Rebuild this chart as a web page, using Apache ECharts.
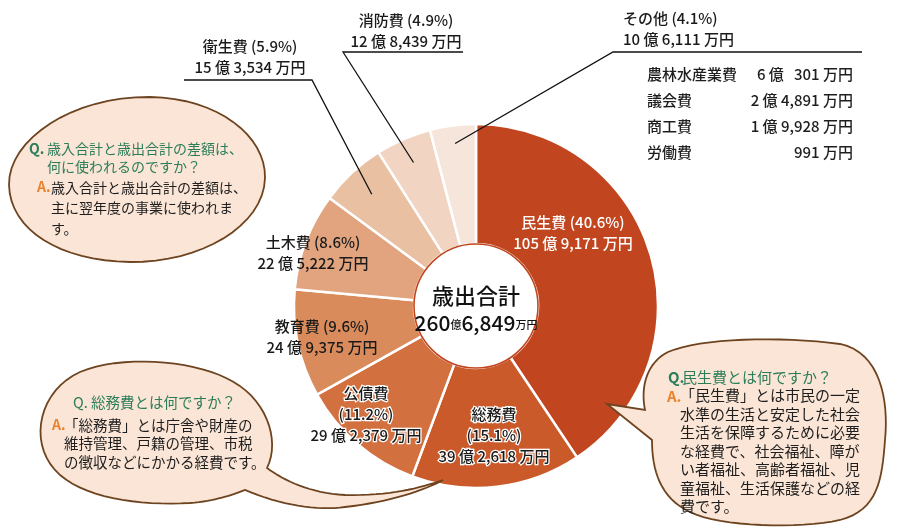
<!DOCTYPE html>
<html><head><meta charset="utf-8">
<script src="https://cdn.jsdelivr.net/npm/echarts@6/dist/echarts.min.js"></script>
<style>html,body{margin:0;padding:0;background:#fff}#c{width:900px;height:532px}</style>
</head><body><div id="c"></div>
<script>
// ---- data (万円) ----
const categories = ['民生費','総務費','公債費','教育費','土木費','衛生費','消防費','その他'];
const values = [1059171, 392618, 292379, 249375, 225222, 153534, 128439, 106111];
const otherNames = ['農林水産業費','議会費','商工費','労働費'];
const otherValues = [60301, 24891, 19928, 991];
const centerTitle = '歳出合計';

// ---- styles / layout ----
const FONT = "'Noto Sans CJK JP', sans-serif";
const sliceColors = ['#c1461f','#cb5a2b','#d2703f','#d98b5c','#e1a47e','#e9c0a2','#f1d5c2','#f6e5da'];
const CX = 476, CY = 306, R_OUT = 182, R_IN = 62;
const labelPos = [[573,233],[494,435],[366,414],[322,337],[313,253],[250,57],[406,31],[623,29]];
const labelAlign = ['center','center','center','center','center','center','center','left'];
const leaderPts = {5: [[312,80],[184,80]], 6: [[343,52],[463,52]], 7: [[613,52],[862,52]]};
const leaderR = {5: 0.84, 6: 0.86, 7: 0.9};

const total = values.reduce((a,b)=>a+b,0);
function fmtMan(v, pad){
  const oku = Math.floor(v/10000), man = v % 10000;
  const m = man >= 1000 ? Math.floor(man/1000) + ',' + String(man % 1000).padStart(3,'0') : String(man);
  if (oku > 0) return oku + ' 億 ' + (pad && man < 1000 ? '  ' : '') + m + ' 万円';
  return m + ' 万円';
}
function pct(v){ return (v/total*100).toFixed(1); }
function midAngle(i){
  let before = 0; for (let k=0;k<i;k++) before += values[k];
  return (before + values[i]/2) / total * Math.PI * 2;
}
const threeLine = {1:true, 2:true};

const labelStyles = [
  {color:'#fff'},
  {color:'#1a1a1a', textBorderColor:'#fff', textBorderWidth:2.5},
  {color:'#1a1a1a', textBorderColor:'#fff', textBorderWidth:2.5},
  {color:'#1a1a1a'},{color:'#1a1a1a'},{color:'#1a1a1a'},{color:'#1a1a1a'},{color:'#1a1a1a'}
];

// sample a simple M/C/L/Z path into polygon points
function samplePath(d){
  const tk = d.trim().split(/[\s,]+/);
  const pts = []; let i = 0, cx = 0, cy = 0, cmd = '';
  while (i < tk.length){
    if (/^[MCLZ]$/i.test(tk[i])) { cmd = tk[i].toUpperCase(); i++; if (cmd==='Z') continue; }
    if (cmd === 'M' || cmd === 'L'){ cx = +tk[i]; cy = +tk[i+1]; i += 2; pts.push([cx,cy]); }
    else if (cmd === 'C'){
      const x1=+tk[i],y1=+tk[i+1],x2=+tk[i+2],y2=+tk[i+3],x3=+tk[i+4],y3=+tk[i+5]; i += 6;
      for (let s=1;s<=16;s++){ const t=s/16, u=1-t;
        pts.push([u*u*u*cx+3*u*u*t*x1+3*u*t*t*x2+t*t*t*x3, u*u*u*cy+3*u*u*t*y1+3*u*t*t*y2+t*t*t*y3]); }
      cx = x3; cy = y3;
    } else i++;
  }
  return pts;
}

const chart = echarts.init(document.getElementById('c'));

const totOku = Math.floor(total/10000), totMan = total % 10000;
const totManStr = Math.floor(totMan/1000) + ',' + String(totMan%1000).padStart(3,'0');

const bubbleStyle = {fill:'#fae5d6', stroke:'#6e4420', lineWidth:1.8};
const GREEN = '#2b7d5a', ORANGE = '#e8832f', DARK = '#1e1e1e';

function txt(text, x, y, opt){
  return {type:'text', z:120, style: Object.assign({text:text, x:x, y:y, fill:DARK, fontSize:14, fontFamily:FONT, textVerticalAlign:'middle'}, opt||{})};
}
function bubble(d){ return {type:'polygon', z:100, shape:{points: samplePath(d)}, style:bubbleStyle}; }

// leader lines from inside the small slices to the labels
const leaders = Object.keys(leaderPts).map(k => {
  const i = +k, a = midAngle(i), r = R_OUT * leaderR[i];
  return {type:'polyline', z:90, shape:{points:[[CX + r*Math.sin(a), CY - r*Math.cos(a)], leaderPts[i][0], leaderPts[i][1]]},
          style:{stroke:'#111', lineWidth:1.3, fill:null}};
});

const graphics = leaders.concat([
  // bubble 1
  bubble('M 9 185 C 8 140 72 96 150 97 C 218 98 266 136 265 178 C 264 226 200 263 130 262 C 60 261 10 230 9 185 Z'),
  txt('Q.', 29, 149, {fill:GREEN, fontWeight:'bold'}),
  txt('歳入合計と歳出合計の差額は、\n何に使われるのですか？', 47, 140, {fill:GREEN, textVerticalAlign:'top', lineHeight:17.5}),
  txt('A.', 37, 187, {fill:ORANGE, fontWeight:'bold'}),
  txt('歳入合計と歳出合計の差額は、\n主に翌年度の事業に使われま\nす。', 51, 177, {textVerticalAlign:'top', lineHeight:20.5}),
  // bubble 2
  bubble('M 267 468 C 281 440 266 396 226 378 C 190 360 120 355 80 372 C 40 390 28 440 55 470 C 80 498 140 506 190 503 C 215 501 232 495 245 490 C 280 505 318 511 345 507 C 390 502 425 490 443 480 C 420 488 390 496 345 495 C 310 493 285 481 267 468 Z'),
  txt('Q. 総務費とは何ですか？', 73, 402, {fill:GREEN, fontSize:14.5}),
  txt('A.', 52, 425, {fill:ORANGE, fontWeight:'bold'}),
  txt('「総務費」とは庁舎や財産の\n維持管理、戸籍の管理、市税\nの徴収などにかかる経費です。', 64, 416, {fontSize:14.5, textVerticalAlign:'top', lineHeight:18.5}),
  // bubble 3
  bubble('M 607 404 L 645 410 C 640 385 648 362 668 352 C 700 338 780 336 840 344 C 880 352 889 400 885 440 C 882 480 878 510 840 520 C 800 529 720 527 690 512 C 660 498 652 470 652 440 Z'),
  txt('Q.', 668, 377, {fill:GREEN, fontSize:15, fontWeight:'bold'}),
  txt('民生費とは何ですか？', 682, 377, {fill:GREEN, fontSize:15}),
  txt('A.', 667, 396, {fill:ORANGE, fontSize:15, fontWeight:'bold'}),
  txt('「民生費」とは市民の一定\n水準の生活と安定した社会\n生活を保障するために必要\nな経費で、社会福祉、障が\nい者福祉、高齢者福祉、児\n童福祉、生活保護などの経\n費です。', 680, 386.5, {fontSize:15, textVerticalAlign:'top', lineHeight:18.5}),
  // その他 breakdown
  txt(otherNames.join('\n'), 647, 61, {fontSize:15, fontWeight:500, textVerticalAlign:'top', lineHeight:26}),
  txt(otherValues.map(v=>fmtMan(v,true)).join('\n'), 853, 61, {fontSize:15, fontWeight:500, textAlign:'right', textVerticalAlign:'top', lineHeight:26}),
  // hole
  {type:'circle', z:95, shape:{cx:CX, cy:CY, r:R_IN}, style:{fill:'#fff', stroke:'#c1461f', lineWidth:1.6}},
  {type:'text', z:96, style:{
    x:CX, y:CY+3, textAlign:'center', textVerticalAlign:'middle', fontFamily:FONT,
    text:'{t|' + centerTitle + '}\n{n|' + totOku + '}{s|億}{n|' + totManStr + '}{s|万円}',
    rich:{
      t:{fontSize:22, fill:'#111', lineHeight:28, fontFamily:FONT, fontWeight:500},
      n:{fontSize:21, fill:'#111', lineHeight:26, fontFamily:FONT, fontWeight:500},
      s:{fontSize:11, fill:'#111', lineHeight:26, fontFamily:FONT, fontWeight:500, padding:[4,0,0,0]}
    }
  }}
]);

chart.setOption({
  animation:false,
  graphic: graphics,
  series:[{
    type:'pie', center:[CX,CY], radius:[R_IN,R_OUT], startAngle:90, clockwise:true,
    avoidLabelOverlap:false, silent:true,
    itemStyle:{borderColor:'#fff', borderWidth:2.5},
    label:{show:true, position:'outside', fontSize:15, fontWeight:500, lineHeight:21, fontFamily:FONT, color:DARK,
      formatter:function(p){
        const i = p.dataIndex;
        const sep = threeLine[i] ? '\n' : ' ';
        return p.name + sep + '(' + pct(p.value) + '%)\n' + fmtMan(p.value,false);
      }},
    labelLine:{show:false},
    labelLayout:function(p){
      const i = p.dataIndex;
      return {x:labelPos[i][0], y:labelPos[i][1], align:labelAlign[i], verticalAlign:'middle'};
    },
    data: categories.map((n,i)=>({
      name:n, value:values[i],
      itemStyle:{color:sliceColors[i]},
      label:labelStyles[i]
    }))
  }]
});
</script></body></html>
